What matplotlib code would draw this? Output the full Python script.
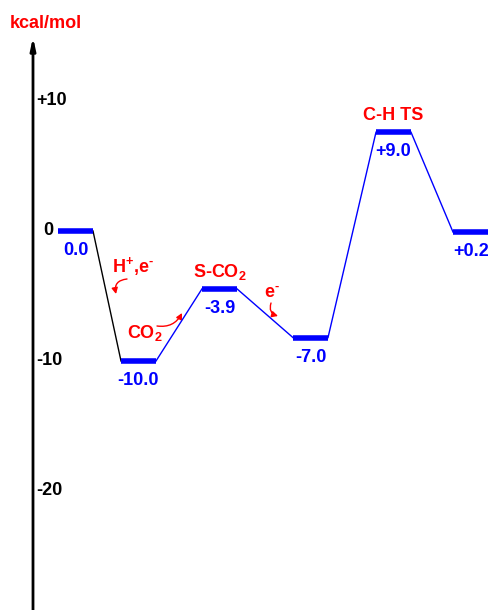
"""Energy profile diagram for CO2 reduction steps."""

import matplotlib

matplotlib.use("Agg")
import matplotlib.pyplot as plt
from matplotlib.patches import FancyArrowPatch

plt.rcParams["font.family"] = ["Liberation Sans", "DejaVu Sans"]
plt.rcParams["mathtext.fontset"] = "custom"
plt.rcParams["mathtext.rm"] = "Liberation Sans:bold"
plt.rcParams["mathtext.it"] = "Liberation Sans:bold"
plt.rcParams["mathtext.bf"] = "Liberation Sans:bold"

# energies as written on the diagram (kcal/mol)
energy_labels = ["0.0", "-10.0", "-3.9", "-7.0", "+9.0", "+0.2"]
# where each level is actually drawn (the sketch is not to scale)
level_y = [0.0, -10.0, -4.45, -8.2, 7.6, -0.08]
level_x = [58, 121, 202, 293, 376, 453]
level_w = [35, 35, 35, 35, 35, 37]
state_names = [None, None, "S-CO$_2$", None, "C-H TS", None]
axis_ticks = [10, 0, -10, -20]
tick_labels = ["+10", "0", "-10", "-20"]

BLUE = "#0000ff"
RED = "#ff0000"
PX = 13.0  # pixels per kcal/mol
FS = 13
HY = "\u2010"  # short hyphen for the electron charge

fig = plt.figure(figsize=(4.89, 6.10), dpi=100)
ax = fig.add_axes([0, 0, 1, 1])
ax.set_xlim(0, 489)
ax.set_ylim((231 - 610) / PX, 231 / PX)
ax.set_axis_off()

# vertical energy axis with arrow head
ax.annotate("", xy=(33, (231 - 37) / PX), xytext=(33, (231 - 612) / PX),
            arrowprops=dict(arrowstyle="-|>,head_length=0.7,head_width=0.15",
                            lw=2, color="black", shrinkA=0, shrinkB=0))
ax.text(46, (231 - 24) / PX, "kcal/mol", color=RED, fontsize=FS, fontweight="bold",
        ha="center", va="center")

for val, lab in zip(axis_ticks, tick_labels):
    xpos = 36 if lab != "0" else 43
    ax.text(xpos, val + 0.05, lab, fontsize=FS, fontweight="bold", ha="left", va="center")

# connecting lines
for i in range(len(level_y) - 1):
    x0 = level_x[i] + level_w[i]
    x1 = level_x[i + 1]
    col = "black" if i == 0 else BLUE
    ax.plot([x0, x1], [level_y[i], level_y[i + 1]], color=col, lw=1)

# levels and labels
for x, w, y, lab, name in zip(level_x, level_w, level_y, energy_labels, state_names):
    ax.plot([x, x + w], [y, y], color=BLUE, lw=4, solid_capstyle="butt")
    ax.text(x + w / 2, y - 1.5, lab, color=BLUE, fontsize=FS, fontweight="bold",
            ha="center", va="center")
    if name:
        ax.text(x + w / 2, y + 1.3, name, color=RED, fontsize=FS, fontweight="bold",
                ha="center", va="center")

# reagent annotations
ax.text(133, (231 - 266) / PX, "H$^{+}$,e$^{" + HY + "}$", color=RED, fontsize=FS,
        fontweight="bold", ha="center", va="center")
ax.text(145, (231 - 333) / PX, "CO$_2$", color=RED, fontsize=FS,
        fontweight="bold", ha="center", va="center")
ax.text(272, (231 - 294) / PX, "e$^{" + HY + "}$", color=RED, fontsize=FS,
        fontweight="bold", ha="center", va="center")


def curved(p0, p1, rad):
    arr = FancyArrowPatch((p0[0], (231 - p0[1]) / PX), (p1[0], (231 - p1[1]) / PX),
                          connectionstyle=f"arc3,rad={rad}",
                          arrowstyle="-|>,head_length=3.5,head_width=1.8",
                          color=RED, lw=1, shrinkA=0, shrinkB=0)
    ax.add_patch(arr)


curved((127, 279), (116, 294), 0.55)
curved((157, 326), (182, 313), 0.35)
curved((271, 303), (278, 316), 0.5)

fig.savefig("out.png", dpi=100)
